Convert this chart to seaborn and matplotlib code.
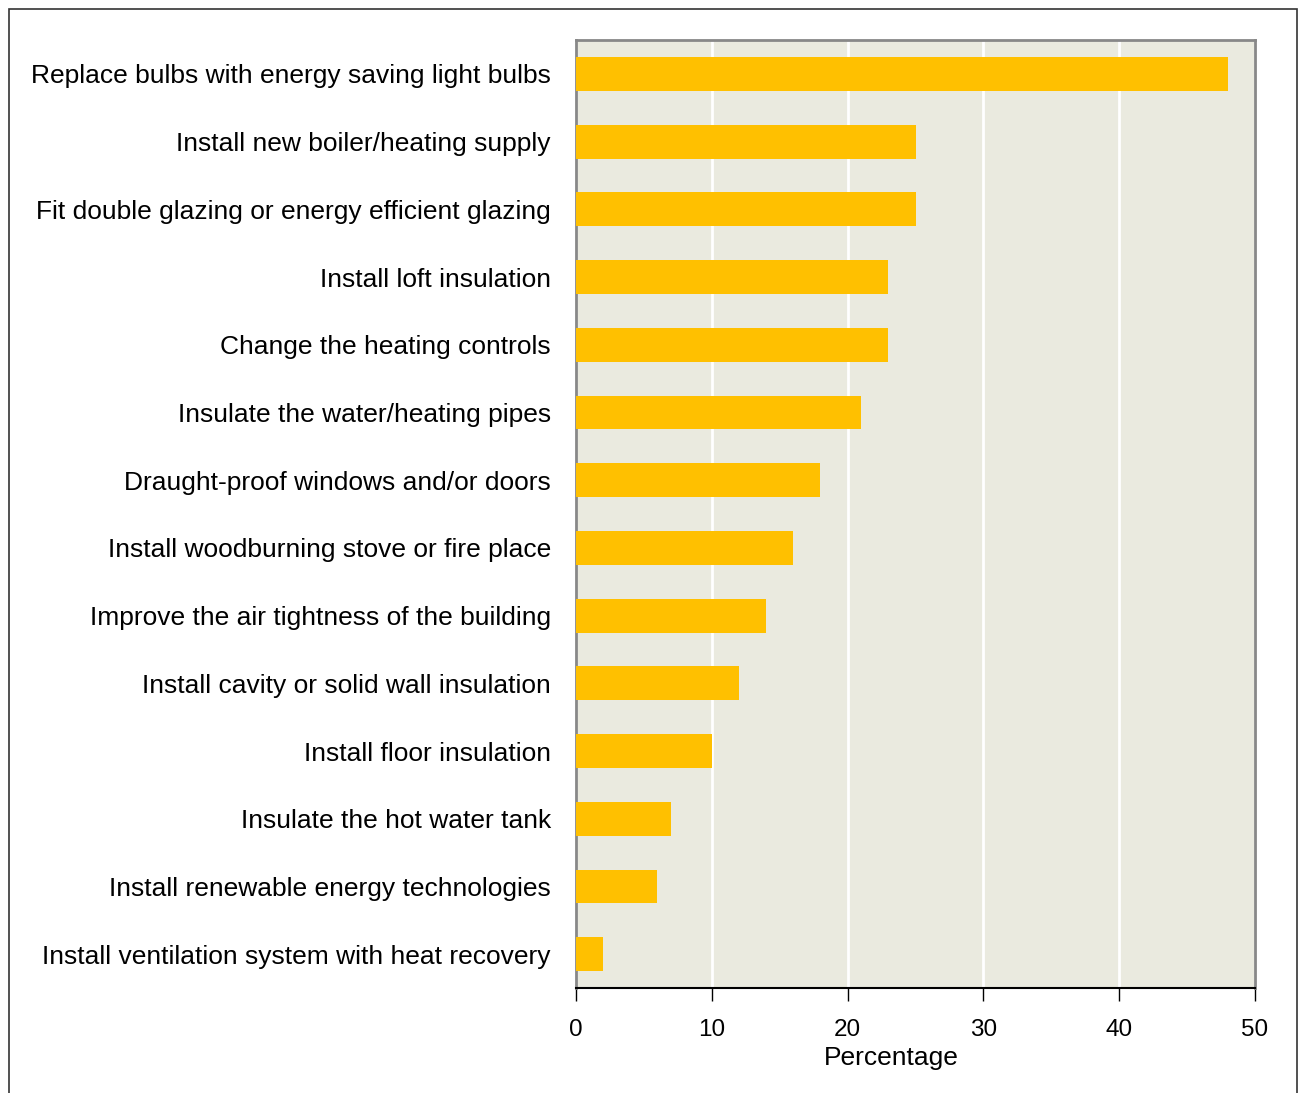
import matplotlib
matplotlib.use("Agg")
import matplotlib.pyplot as plt
import seaborn as sns
import pandas as pd
from matplotlib.patches import Rectangle

measures = [
    "Replace bulbs with energy saving light bulbs",
    "Install new boiler/heating supply",
    "Fit double glazing or energy efficient glazing",
    "Install loft insulation",
    "Change the heating controls",
    "Insulate the water/heating pipes",
    "Draught-proof windows and/or doors",
    "Install woodburning stove or fire place",
    "Improve the air tightness of the building",
    "Install cavity or solid wall insulation",
    "Install floor insulation",
    "Insulate the hot water tank",
    "Install renewable energy technologies",
    "Install ventilation system with heat recovery",
]
percentages = [48, 25, 25, 23, 23, 21, 18, 16, 14, 12, 10, 7, 6, 2]
x_ticks = [0, 10, 20, 30, 40, 50]

sns.set_theme(style="white")
plt.rcParams["font.family"] = ["Liberation Sans", "DejaVu Sans"]

df = pd.DataFrame({"measure": measures, "pct": percentages})

fig = plt.figure(figsize=(13, 10.93), dpi=100)
ax = fig.add_axes([576 / 1300, 1 - 988 / 1093, (1255 - 576) / 1300, (988 - 40) / 1093])
ax.set_facecolor("#EAEADF")

sns.barplot(data=df, x="pct", y="measure", orient="h", color="#FFC000",
            width=0.5, saturation=1, linewidth=0, ax=ax, zorder=3)

ax.set_xlim(0, 50)
ax.set_ylim(len(measures) - 0.5, -0.5)
ax.set_xticks(x_ticks)
ax.set_xticklabels([str(t) for t in x_ticks])
ax.grid(axis="x", color="white", linewidth=2, zorder=1)
ax.grid(axis="y", visible=False)
ax.set_axisbelow(True)

ax.tick_params(axis="x", direction="out", length=9, width=1, color="black",
               labelsize=17.5, labelcolor="black", pad=13, bottom=True)
ax.tick_params(axis="y", length=0, labelsize=19, labelcolor="black", pad=18)

ax.set_ylabel("")
ax.set_xlabel("Percentage", fontsize=19, color="black")
ax.xaxis.set_label_coords(0.464, -0.0735)
ax.xaxis.label.set_va("center")

for side in ["top", "left", "right"]:
    ax.spines[side].set_color("#888888")
    ax.spines[side].set_linewidth(2)
ax.spines["bottom"].set_color("black")
ax.spines["bottom"].set_linewidth(1.5)

# outer frame around the chart, open past the lower edge
fig.patches.append(Rectangle((9 / 1300, -0.05), (1297 - 9) / 1300, 1 - 9 / 1093 + 0.05,
                             transform=fig.transFigure, fill=False,
                             edgecolor="#333333", linewidth=1.2))

fig.savefig("out.png", dpi=100, facecolor="white")
